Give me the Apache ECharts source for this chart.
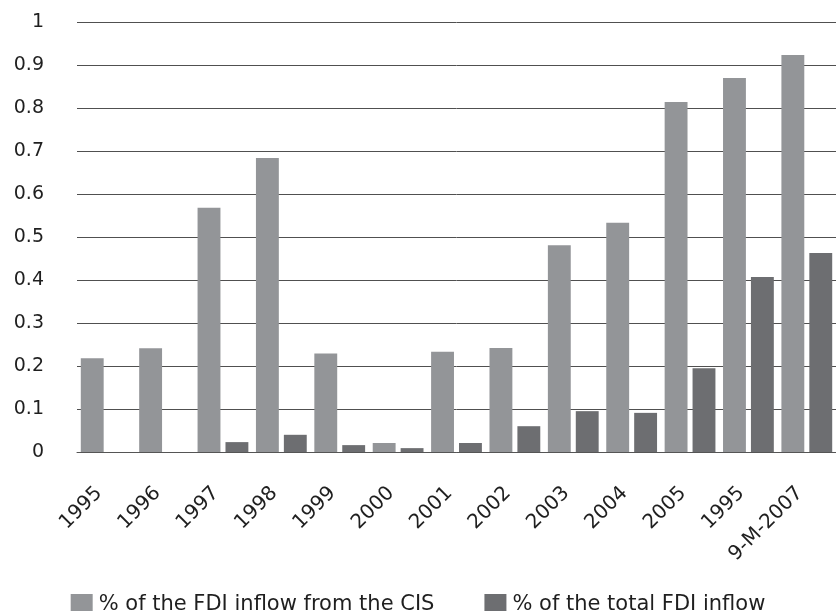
<!DOCTYPE html>
<html>
<head>
<meta charset="utf-8">
<script src="https://cdn.jsdelivr.net/npm/echarts@6/dist/echarts.min.js"></script>
<style>html,body{margin:0;padding:0;background:#fff}#c{width:836px;height:611px}</style>
</head>
<body>
<div id="c"></div>
<script>
const categories = ['1995','1996','1997','1998','1999','2000','2001','2002','2003','2004','2005','1995','9-M-2007'];
const cisShare = [0.218,0.241,0.568,0.684,0.229,0.021,0.233,0.242,0.481,0.533,0.814,0.870,0.923];
const totalShare = [0,0,0.023,0.040,0.016,0.009,0.021,0.060,0.095,0.091,0.195,0.407,0.463];
const seriesNames = ['% of the FDI inflow from the CIS','% of the total FDI inflow'];

const chart = echarts.init(document.getElementById('c'), null, {renderer:'canvas'});
const font = '"DejaVu Sans", sans-serif';
chart.setOption({
  animation:false,
  grid:{left:77, top:22, width:766, bottom:159, containLabel:false},
  legend:{
    top:589, left:'center',
    itemWidth:22, itemHeight:22, itemGap:50,
    icon:'rect',
    textStyle:{fontFamily:font, fontSize:21, color:'#1f1f1f', padding:[0,0,0,1]},
    data:seriesNames
  },
  xAxis:{
    type:'category', data:categories,
    axisLine:{show:true, lineStyle:{color:'#555', width:1}},
    axisTick:{show:false},
    axisLabel:{rotate:45, interval:0, fontFamily:font, fontSize:20, color:'#1f1f1f', margin:31, padding:[0,10,0,0]}
  },
  yAxis:{
    type:'value', min:0, max:1, interval:0.1,
    axisLine:{show:false}, axisTick:{show:false},
    axisLabel:{fontFamily:font, fontSize:19, color:'#1f1f1f', margin:33},
    splitLine:{lineStyle:{color:'#505050', width:1}}
  },
  series:[
    {name:seriesNames[0], type:'bar', data:cisShare, barGap:'22%', barCategoryGap:'13%', itemStyle:{color:'#939598'}},
    {name:seriesNames[1], type:'bar', data:totalShare, itemStyle:{color:'#6d6e71'}}
  ]
});
</script>
</body>
</html>
